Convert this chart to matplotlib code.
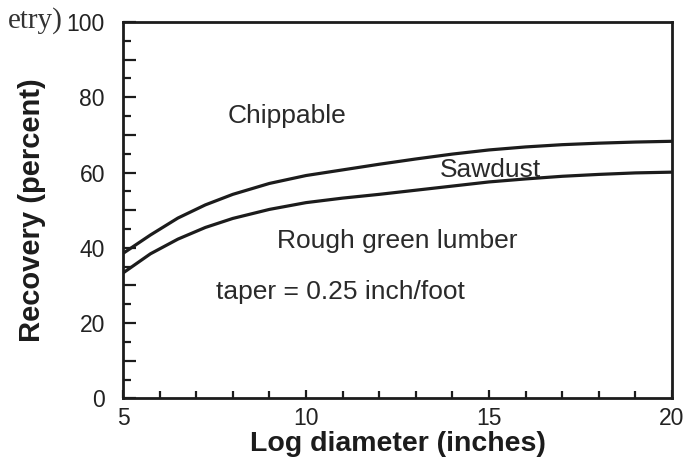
import matplotlib
matplotlib.use("Agg")
import matplotlib.pyplot as plt
from matplotlib.ticker import MultipleLocator, FuncFormatter

plt.rcParams['font.family'] = ['Liberation Sans', 'DejaVu Sans']

# log diameter (inches) and recovery curves (percent)
diameter = [5, 5.75, 6.5, 7.25, 8, 9, 10, 11, 12, 13, 14, 15, 16, 17, 18, 19, 20]
upper_curve = [38.5, 43.4, 47.9, 51.4, 54.2, 57.1, 59.2, 60.7, 62.2, 63.6, 64.9, 66.0, 66.8, 67.4, 67.8, 68.1, 68.3]
lower_curve = [33.3, 38.4, 42.3, 45.4, 47.8, 50.2, 52.0, 53.2, 54.2, 55.3, 56.4, 57.5, 58.3, 59.0, 59.5, 59.9, 60.1]

region_labels = ["Chippable", "Sawdust", "Rough green lumber", "taper = 0.25 inch/foot"]
label_x = [7.85, 13.65, 9.2, 7.55]
label_y = [75.0, 60.8, 41.8, 28.3]

ink = '#1c1c1c'

fig = plt.figure(figsize=(6.84, 4.65), dpi=100)
ax = fig.add_axes([0.1798, 0.1434, 0.8027, 0.8093])

ax.plot(diameter, upper_curve, color=ink, lw=2.3, solid_joinstyle='round')
ax.plot(diameter, lower_curve, color=ink, lw=2.3, solid_joinstyle='round')

for txt, x, y in zip(region_labels, label_x, label_y):
    ax.text(x, y, txt, fontsize=19, color='#2a2a2a', ha='left', va='center')

ax.set_xlim(5, 20)
ax.set_ylim(0, 100)
ax.xaxis.set_major_locator(MultipleLocator(5))
ax.xaxis.set_minor_locator(MultipleLocator(1))
ax.yaxis.set_major_locator(MultipleLocator(10))
ax.yaxis.set_minor_locator(MultipleLocator(5))
ax.yaxis.set_major_formatter(FuncFormatter(lambda v, p: f"{int(v)}" if int(v) % 20 == 0 else ""))

ax.tick_params(axis='both', which='both', direction='in', color=ink, width=1.6,
               labelsize=16.5, labelcolor='#222222', top=False, right=False)
ax.tick_params(axis='y', which='major', length=9, pad=13)
ax.tick_params(axis='y', which='minor', length=6)
ax.tick_params(axis='x', which='major', length=6, pad=6)
ax.tick_params(axis='x', which='minor', length=5)

for s in ax.spines.values():
    s.set_color(ink)
    s.set_linewidth(2.0)

ax.set_xlabel('Log diameter (inches)', fontsize=20.5, fontweight='bold', color=ink, labelpad=1)
ax.set_ylabel('Recovery (percent)', fontsize=21, fontweight='bold', color=ink, labelpad=15)

# fragment of text from the facing page in the scan
fig.text(63 / 684, 1 - 21 / 465, 'etry)', fontsize=21, family=['Liberation Serif', 'DejaVu Serif'],
         color='#333333', ha='right', va='center')

fig.savefig('out.png', dpi=100)
